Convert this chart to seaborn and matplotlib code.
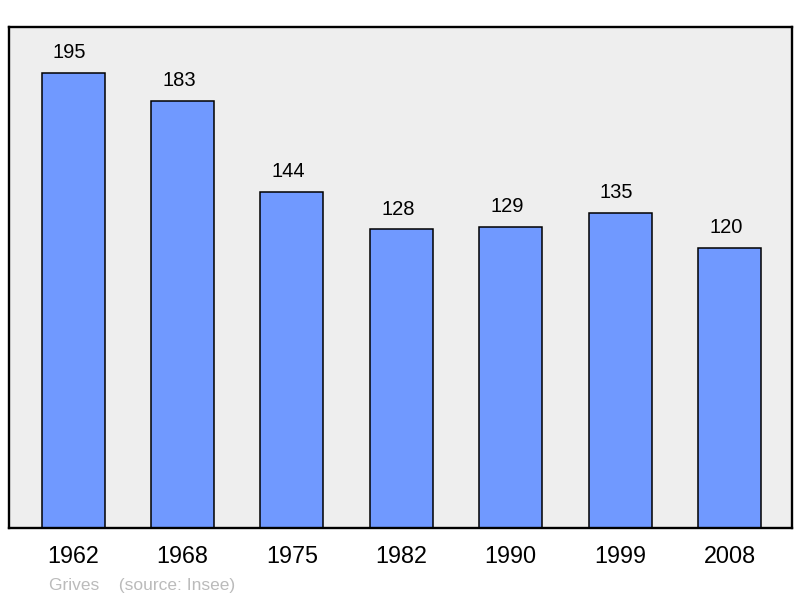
import matplotlib
matplotlib.use("Agg")
import matplotlib.pyplot as plt
import seaborn as sns
import pandas as pd

# population by census year
years = ["1962", "1968", "1975", "1982", "1990", "1999", "2008"]
population = [195, 183, 144, 128, 129, 135, 120]

df = pd.DataFrame({"year": years, "population": population})

sns.set_theme(style="white")
plt.rcParams["font.family"] = ["Liberation Sans", "DejaVu Sans"]

fig = plt.figure(figsize=(8, 5.98), dpi=100)
ax = fig.add_axes([9 / 800, 1 - 528 / 598, 783 / 800, 501 / 598])
ax.set_facecolor("#eeeeee")

sns.barplot(data=df, x="year", y="population", color="#7099ff", saturation=1,
            width=0.576, edgecolor="black", linewidth=1.1, ax=ax)

# value labels above bars
for i, v in enumerate(population):
    ax.annotate(str(v), (i, v), xytext=(-2.5, 14.5), textcoords="offset points",
                ha="center", va="center", fontsize=14.5, color="black")

ax.set_xlim(-0.585, 6.57)
ax.set_ylim(0, 214.7)
ax.set_yticks([])
ax.set_xlabel("")
ax.set_ylabel("")
ax.tick_params(axis="x", length=0, pad=12.5, labelsize=16.8, colors="black")
for s in ax.spines.values():
    s.set_visible(True)
    s.set_color("black")
    s.set_linewidth(1.7)

# source note under the chart
fig.text(49 / 800, 1 - 590 / 598, "Grives    (source: Insee)", fontsize=12.5,
         color="#bbbbbb", ha="left", va="baseline")

fig.savefig("out.png", dpi=100)
